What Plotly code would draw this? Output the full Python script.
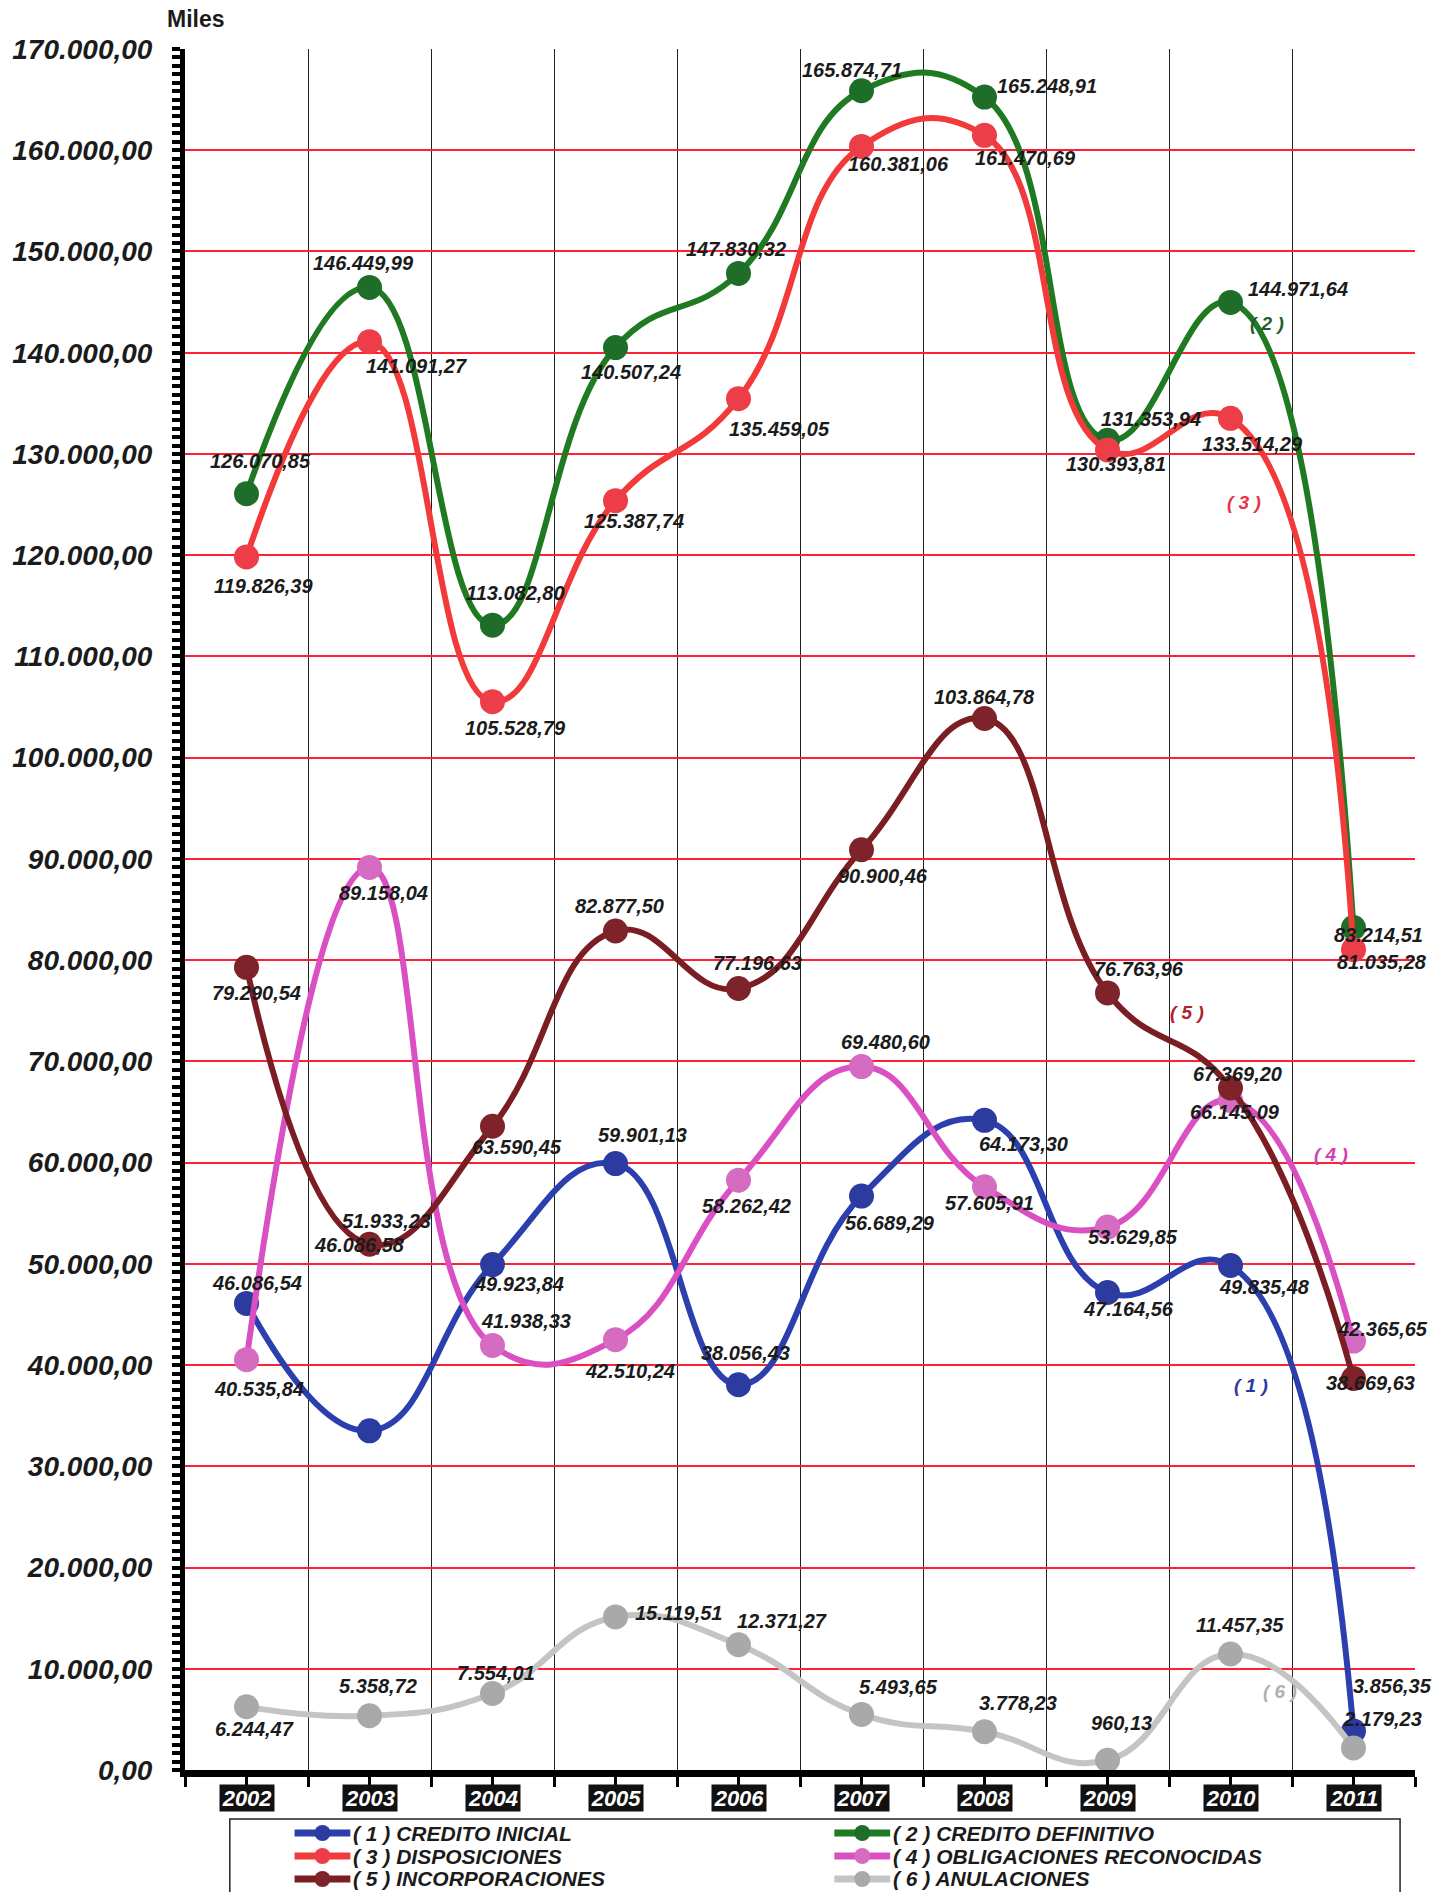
import plotly.graph_objects as go

# ---- data (miles de euros) ----
years = ["2002", "2003", "2004", "2005", "2006", "2007", "2008", "2009", "2010", "2011"]

credito_inicial = [46086.54, 33500.00, 49923.84, 59901.13, 38056.43,
                   56689.29, 64173.30, 47164.56, 49835.48, 3856.35]
credito_definitivo = [126070.85, 146449.99, 113082.80, 140507.24, 147830.32,
                      165874.71, 165248.91, 131353.94, 144971.64, 83214.51]
disposiciones = [119826.39, 141091.27, 105528.79, 125387.74, 135459.05,
                 160381.06, 161470.69, 130393.81, 133514.29, 81035.28]
obligaciones = [40535.84, 89158.04, 41938.33, 42510.24, 58262.42,
                69480.60, 57605.91, 53629.85, 66145.09, 42365.65]
incorporaciones = [79290.54, 51933.23, 63590.45, 82877.50, 77196.63,
                   90900.46, 103864.78, 76763.96, 67369.20, 38669.63]
anulaciones = [6244.47, 5358.72, 7554.01, 15119.51, 12371.27,
               5493.65, 3778.23, 960.13, 11457.35, 2179.23]
extra_label_value = 46086.58

series_names = ["( 1 ) CREDITO INICIAL", "( 2 ) CREDITO DEFINITIVO",
                "( 3 ) DISPOSICIONES", "( 4 ) OBLIGACIONES RECONOCIDAS",
                "( 5 ) INCORPORACIONES", "( 6 ) ANULACIONES"]
series_values = [credito_inicial, credito_definitivo, disposiciones,
                 obligaciones, incorporaciones, anulaciones]
y_ticks = list(range(0, 170001, 10000))

# ---- styling ----
W, H = 1447, 1892
ML, MR, MT, MB = 180, 32, 49, 122
PW, PH = W - ML - MR, H - MT - MB

line_colors = ["#2b3fae", "#1f7a22", "#f23a3a", "#da4fc2", "#7b1e24", "#c4c4c4"]
marker_colors = ["#2c3ba0", "#1e6e2a", "#ec3d48", "#d66cc2", "#7d2329", "#a9a9a9"]
tag_colors = ["#2a3aa0", "#1f5f2f", "#e8344a", "#d040b0", "#b02030", "#b0b0b0"]

# value-label offsets in pixels (dx right, dy down) for each point
S = 1.207
label_offsets = [
    [(9, -17), None, (22, 16), (22, -24), (6, -26), (24, 22), (32, 20), (17, 14), (28, 18), (32, -37)],
    [(12, -27), (-5, -20), (19, -27), (13, 20), (-2, -20), (-8, -17), (52, -9), (36, -18), (56, -11), (21, 6)],
    [(14, 24), (39, 20), (19, 22), (15, 17), (34, 25), (31, 15), (34, 19), (7, 12), (18, 21), (24, 10)],
    [(10, 24), (12, 21), (28, -20), (12, 26), (7, 21), (20, -20), (4, 13), (21, 8), (4, 10), (24, -10)],
    [(8, 21), (14, -19), (20, 17), (3, -21), (16, -21), (18, 22), (0, -18), (26, -20), (6, -12), (14, 4)],
    [(7, 18), (7, -25), (3, -17), (53, -3), (36, -20), (31, -23), (28, -24), (12, -31), (8, -24), (24, -24)],
]

# series tags "(n)" placed beside the curves (data coordinates)
tag_positions = [(8.17, 38000), (8.30, 142900), (8.11, 125200),
                 (8.82, 60800), (7.65, 74800), (8.40, 7800)]


def fmt(v):
    s = f"{v:,.2f}"
    return s.replace(",", "X").replace(".", ",").replace("X", ".")


def px_x(px):
    return (px - ML) / PW


def px_y(py):
    return (H - MB - py) / PH


x = list(range(len(years)))
fig = go.Figure()

for name, vals, lc, mc in zip(series_names, series_values, line_colors, marker_colors):
    fig.add_trace(go.Scatter(
        x=x, y=vals, name=name, mode="lines+markers", showlegend=False,
        line=dict(color=lc, width=6, shape="spline", smoothing=1.3),
        marker=dict(color=mc, size=25, line=dict(width=0)),
    ))

FONT = "Liberation Sans, Arial, sans-serif"
label_font = dict(family=FONT, size=20, color="#1b1b1b", weight="bold", style="italic")
annotations = []
for vals, offs in zip(series_values, label_offsets):
    for i, (v, off) in enumerate(zip(vals, offs)):
        if off is None:
            continue
        annotations.append(dict(
            x=i, y=v, xref="x", yref="y", text=fmt(v), showarrow=False,
            xshift=off[0] * S, yshift=-off[1] * S, font=label_font,
        ))

# extra value text printed beside the 2003 incorporaciones point
annotations.append(dict(x=1, y=incorporaciones[1], xref="x", yref="y",
                        text=fmt(extra_label_value), showarrow=False,
                        xshift=-10, yshift=-1, font=label_font))

for k, ((tx, ty), col) in enumerate(zip(tag_positions, tag_colors)):
    annotations.append(dict(x=tx, y=ty, xref="x", yref="y", text=f"( {k + 1} )",
                            showarrow=False,
                            font=dict(family=FONT, size=19, color=col,
                                      weight="bold", style="italic")))

# year labels in black boxes
for i, yr in enumerate(years):
    annotations.append(dict(x=i, y=px_y(1798), xref="x", yref="paper", text=yr,
                            showarrow=False, bgcolor="#111111", borderpad=0,
                            width=54, height=26, yanchor="middle",
                            font=dict(family=FONT, size=22, color="white",
                                      weight="bold", style="italic")))

annotations.append(dict(x=px_x(191), y=px_y(19), xref="paper", yref="paper",
                        text="Miles", showarrow=False, xanchor="center", yanchor="middle",
                        font=dict(family=FONT, size=23, color="#1b1b1b", weight="bold")))

# legend: two columns, three rows, drawn inside a framed box
shapes = [dict(type="rect", xref="paper", yref="paper",
               x0=px_x(225), x1=px_x(1400), y0=px_y(1905), y1=px_y(1819),
               line=dict(color="#222", width=1.5), layer="below")]
col_x = [290, 832]
row_y = [1833, 1856, 1879]
for k, (name, lc, mc) in enumerate(zip(series_names, line_colors, marker_colors)):
    cx = col_x[k % 2]
    cy = row_y[k // 2]
    shapes.append(dict(type="line", xref="paper", yref="paper",
                       x0=px_x(cx), x1=px_x(cx + 56), y0=px_y(cy), y1=px_y(cy),
                       line=dict(color=lc, width=7)))
    shapes.append(dict(type="circle", xref="paper", yref="paper",
                       xsizemode="pixel", ysizemode="pixel",
                       xanchor=px_x(cx + 28), yanchor=px_y(cy),
                       x0=-8, x1=8, y0=-8, y1=8,
                       fillcolor=mc, line=dict(width=0)))
    annotations.append(dict(x=px_x(cx + 57), y=px_y(cy), xref="paper", yref="paper",
                            text=name, showarrow=False, xanchor="left", yanchor="middle",
                            font=dict(family=FONT, size=21, color="#1b1b1b",
                                      weight="bold", style="italic")))

fig.update_layout(
    width=W, height=H,
    margin=dict(l=ML, r=MR, t=MT, b=MB),
    separators=",.",
    plot_bgcolor="white", paper_bgcolor="white",
    font=dict(family=FONT, color="#1b1b1b"),
    annotations=annotations,
    shapes=shapes,
    showlegend=False,
)

fig.update_xaxes(
    range=[-0.5, 9.5], tickvals=x, showticklabels=False,
    ticks="outside", ticklen=10, tickwidth=3, tickcolor="black",
    showline=True, linewidth=7, linecolor="black",
    showgrid=False, zeroline=False,
    minor=dict(tickvals=[i - 0.5 for i in range(len(years) + 1)],
               ticks="outside", ticklen=10, tickwidth=3, tickcolor="black",
               showgrid=True, gridcolor="#222222", gridwidth=1),
)

fig.update_yaxes(
    range=[0, 170000], tickvals=y_ticks, tickformat=",.2f",
    ticks="outside", ticklen=8, tickwidth=4, tickcolor="black",
    showline=True, linewidth=5, linecolor="black",
    showgrid=True, gridcolor="#ff2038", gridwidth=1.5, zeroline=False,
    ticklabelstandoff=14,
    tickfont=dict(family=FONT, size=28, color="#1b1b1b", weight="bold", style="italic"),
    minor=dict(dtick=10000 / 12, tick0=0, ticks="outside", ticklen=8,
               tickwidth=4, tickcolor="black", showgrid=False),
)

fig.write_html("out.html")
